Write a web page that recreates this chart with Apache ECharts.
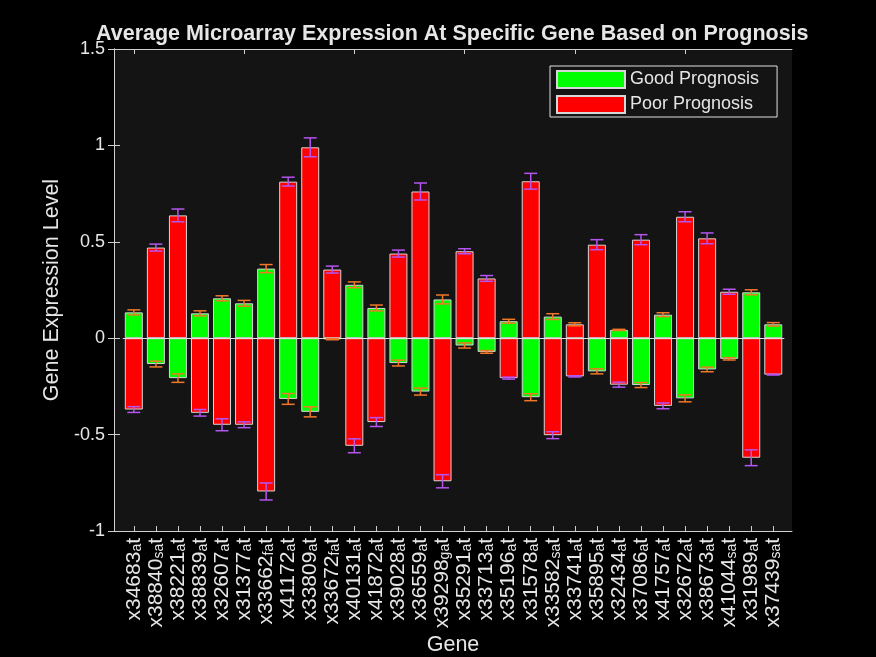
<!DOCTYPE html>
<html>
<head>
<meta charset="utf-8">
<script src="https://cdn.jsdelivr.net/npm/echarts@6/dist/echarts.min.js"></script>
<style>
html, body { margin: 0; padding: 0; background: #000; }
#chart { width: 876px; height: 657px; }
</style>
</head>
<body>
<div id="chart"></div>
<script>
var genes = ['x34683_at', 'x38840_s_at', 'x38221_at', 'x38839_at', 'x32607_at', 'x31377_at',
  'x33662_f_at', 'x41172_at', 'x33809_at', 'x33672_f_at', 'x40131_at', 'x41872_at',
  'x39028_at', 'x36559_at', 'x39298_g_at', 'x35291_at', 'x33713_at', 'x35196_at',
  'x31578_at', 'x33582_s_at', 'x33741_at', 'x35895_at', 'x32434_at', 'x37086_at',
  'x41757_at', 'x32672_at', 'x38673_at', 'x41044_s_at', 'x31989_at', 'x37439_s_at'];

var goodMean = [0.134, -0.134, -0.207, 0.129, 0.207, 0.181, 0.361, -0.315, -0.382, -0.005,
  0.277, 0.157, -0.129, -0.277, 0.201, -0.038, -0.071, 0.088, -0.306, 0.112,
  0.072, -0.172, 0.043, -0.243, 0.122, -0.312, -0.162, -0.107, 0.238, 0.072];
var goodErr = [0.013, 0.015, 0.022, 0.013, 0.013, 0.015, 0.021, 0.028, 0.026, 0.003,
  0.015, 0.015, 0.015, 0.018, 0.023, 0.013, 0.007, 0.010, 0.018, 0.015,
  0.008, 0.013, 0.003, 0.013, 0.010, 0.018, 0.012, 0.006, 0.013, 0.009];

var poorMean = [-0.370, 0.470, 0.637, -0.387, -0.449, -0.449, -0.795, 0.812, 0.990, 0.356,
  -0.558, -0.435, 0.439, 0.761, -0.742, 0.451, 0.310, -0.207, 0.814, -0.503,
  -0.198, 0.485, -0.241, 0.511, -0.351, 0.630, 0.518, 0.241, -0.620, -0.189];
var poorErr = [0.015, 0.018, 0.033, 0.017, 0.031, 0.015, 0.044, 0.023, 0.049, 0.018,
  0.036, 0.023, 0.018, 0.044, 0.034, 0.013, 0.015, 0.005, 0.041, 0.018,
  0.003, 0.026, 0.013, 0.026, 0.015, 0.026, 0.028, 0.013, 0.041, 0.002];

// in the picture this one green bar is painted red
var redGoodIdx = [20];

var txt = '#e6e6e6';
var axisCol = '#cfcfcf';
var font = 'Liberation Sans, Arial, sans-serif';

function labelFmt(v) {
  var parts = v.split('_');
  var s = '{m|' + parts[0] + '}';
  for (var k = 1; k < parts.length; k++) {
    s += '{s|' + parts[k].charAt(0) + '}';
    if (parts[k].length > 1) s += '{m|' + parts[k].slice(1) + '}';
  }
  return s;
}

function errSeries(means, errs, color) {
  return {
    type: 'custom',
    xAxisIndex: 2, yAxisIndex: 2,
    silent: true, z: 5,
    data: means.map(function (m, i) { return [i, m, errs[i]]; }),
    encode: { x: 0, y: 1 },
    renderItem: function (params, api) {
      var i = api.value(0), m = api.value(1), e = api.value(2);
      var hi = api.coord([i, m + e]), lo = api.coord([i, m - e]);
      var w = 6.5;
      var st = { stroke: color, lineWidth: 1.5 };
      return { type: 'group', children: [
        { type: 'line', shape: { x1: hi[0], y1: hi[1], x2: lo[0], y2: lo[1] }, style: st },
        { type: 'line', shape: { x1: hi[0] - w, y1: hi[1], x2: hi[0] + w, y2: hi[1] }, style: st },
        { type: 'line', shape: { x1: lo[0] - w, y1: lo[1], x2: lo[0] + w, y2: lo[1] }, style: st }
      ] };
    }
  };
}

var myChart = echarts.init(document.getElementById('chart'));

var option = {
  backgroundColor: '#000',
  animation: false,
  textStyle: { fontFamily: font },
  title: {
    text: 'Average Microarray Expression At Specific Gene Based on Prognosis',
    left: 96, top: 18, padding: [5, 0, 5, 0],
    textStyle: { color: txt, fontSize: 21.5, fontWeight: 'bold', fontFamily: font }
  },
  legend: {
    data: ['Good Prognosis', 'Poor Prognosis'],
    orient: 'vertical', left: 550, top: 66,
    padding: [4, 18, 3, 6], itemGap: 6,
    itemWidth: 68, itemHeight: 17, icon: 'rect',
    backgroundColor: '#141414', borderColor: '#e0e0e0', borderWidth: 1, borderRadius: 0,
    textStyle: { color: txt, fontSize: 18, fontFamily: font }
  },
  grid: [
    { left: 114, width: 678, top: 49, height: 482, outerBoundsMode: 'none', containLabel: false,
      show: true, backgroundColor: '#141414', borderWidth: 0 },
    { left: 122.8, width: 661.5, top: 49, height: 482, outerBoundsMode: 'none', containLabel: false }
  ],
  xAxis: [
    { gridIndex: 0, type: 'value', min: 0, max: 1, position: 'bottom',
      axisLine: { show: true, onZero: false, lineStyle: { color: axisCol, width: 1 } },
      axisTick: { show: false }, axisLabel: { show: false }, splitLine: { show: false },
      name: 'Gene', nameLocation: 'middle', nameGap: 103,
      nameTextStyle: { color: txt, fontSize: 21.5, fontFamily: font } },
    { gridIndex: 0, type: 'value', min: 0, max: 1, position: 'top',
      axisLine: { show: true, onZero: false, lineStyle: { color: axisCol, width: 1 } },
      axisTick: { show: false }, axisLabel: { show: false }, splitLine: { show: false } },
    { gridIndex: 1, type: 'category', data: genes, position: 'bottom',
      axisLine: { show: false, onZero: false },
      axisTick: { show: true, inside: true, alignWithLabel: true, length: 5, lineStyle: { color: axisCol } },
      axisLabel: {
        rotate: 90, margin: 7, interval: 0, color: txt,
        formatter: labelFmt,
        rich: {
          m: { fontSize: 21, lineHeight: 20, color: txt, fontFamily: font, verticalAlign: 'middle' },
          s: { fontSize: 14, lineHeight: 14, color: txt, fontFamily: font, verticalAlign: 'bottom', padding: [10, 0, 0, 0] }
        }
      } },
    { gridIndex: 1, type: 'category', data: genes, position: 'top',
      axisLine: { show: false, onZero: false },
      axisTick: { show: true, inside: true, alignWithLabel: true, length: 5, lineStyle: { color: axisCol } },
      axisLabel: { show: false } }
  ],
  yAxis: [
    { gridIndex: 0, type: 'value', min: -1, max: 1.5, interval: 0.5, position: 'left',
      axisLine: { show: true, lineStyle: { color: axisCol, width: 1 } },
      axisTick: { show: true, inside: true, length: 6, lineStyle: { color: axisCol } },
      axisLabel: { color: txt, fontSize: 18, margin: 9, fontFamily: font },
      splitLine: { show: false },
      name: 'Gene Expression Level', nameLocation: 'middle', nameGap: 49,
      nameTextStyle: { color: txt, fontSize: 21.5, fontFamily: font } },
    { gridIndex: 0, type: 'value', min: -1, max: 1.5, interval: 0.5, position: 'right',
      axisLine: { show: true, lineStyle: { color: axisCol, width: 1 } },
      axisTick: { show: true, inside: true, length: 6, lineStyle: { color: axisCol } },
      axisLabel: { show: false }, splitLine: { show: false } },
    { gridIndex: 1, type: 'value', min: -1, max: 1.5, show: false, splitLine: { show: false } }
  ],
  series: [
    {
      name: 'Good Prognosis', type: 'bar', xAxisIndex: 2, yAxisIndex: 2,
      barWidth: 18, barGap: '-100%',
      itemStyle: { color: '#00ff00', borderColor: '#d6d6d6', borderWidth: 1 },
      data: goodMean.map(function (v, i) {
        return redGoodIdx.indexOf(i) >= 0 ? { value: v, itemStyle: { color: '#ff0000' } } : v;
      })
    },
    {
      name: 'Poor Prognosis', type: 'bar', xAxisIndex: 2, yAxisIndex: 2,
      barWidth: 18, barGap: '-100%',
      itemStyle: { color: '#ff0000', borderColor: '#d6d6d6', borderWidth: 1 },
      data: poorMean,
      markLine: {
        silent: true, symbol: 'none', label: { show: false },
        lineStyle: { color: '#e0e0e0', width: 1.2, type: 'solid' },
        data: [{ yAxis: 0 }]
      }
    },
    errSeries(goodMean, goodErr, '#f07828'),
    errSeries(poorMean, poorErr, '#b455f0')
  ]
};

myChart.setOption(option);
</script>
</body>
</html>
